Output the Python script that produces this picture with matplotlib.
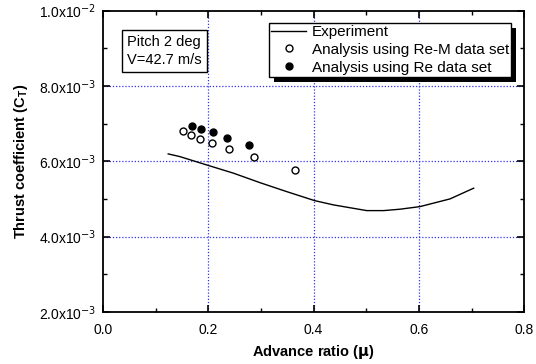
import matplotlib
matplotlib.use("Agg")
import matplotlib.pyplot as plt
from matplotlib.ticker import MultipleLocator, FuncFormatter
from matplotlib.patches import Rectangle

plt.rcParams['font.family'] = ['Liberation Sans', 'DejaVu Sans']

exp_mu = [0.124, 0.146, 0.201, 0.248, 0.298, 0.349, 0.402, 0.438, 0.501, 0.533, 0.564, 0.602, 0.659, 0.704]
exp_ct = [0.006195, 0.006124, 0.005885, 0.005683, 0.005433, 0.005194, 0.004955, 0.004841, 0.00469, 0.00469, 0.004727, 0.004796, 0.005000, 0.005285]

rem_mu = [0.1526, 0.1667, 0.1838, 0.2077, 0.2394, 0.2869, 0.3654]
rem_ct = [0.006806, 0.006708, 0.006602, 0.006487, 0.006328, 0.006116, 0.005763]

re_mu = [0.1697, 0.1862, 0.2085, 0.2362, 0.2780]
re_ct = [0.006939, 0.006859, 0.006771, 0.006628, 0.006434]

fig = plt.figure(figsize=(5.36, 3.64), dpi=100)
ax = fig.add_axes([0.192, 0.143, 0.786, 0.828])

ax.plot(exp_mu, exp_ct, color='black', lw=1.0, label='Experiment')
ax.plot(rem_mu, rem_ct, 'o', mfc='white', mec='black', ms=5, mew=1.0, label='Analysis using Re-M data set')
ax.plot(re_mu, re_ct, 'o', mfc='black', mec='black', ms=5, label='Analysis using Re data set')

ax.set_xlim(0, 0.8)
ax.set_ylim(0.002, 0.010)
ax.xaxis.set_major_locator(MultipleLocator(0.2))
ax.xaxis.set_minor_locator(MultipleLocator(0.1))
ax.yaxis.set_major_locator(MultipleLocator(0.002))
ax.yaxis.set_minor_locator(MultipleLocator(0.001))

def yfmt(v, pos):
    return r'%.1fx10$^{-3}$' % (v * 1000) if abs(v - 0.01) > 1e-9 else r'1.0x10$^{-2}$'
ax.yaxis.set_major_formatter(FuncFormatter(yfmt))
ax.xaxis.set_major_formatter(FuncFormatter(lambda v, p: '%.1f' % v))

ax.tick_params(which='both', direction='in', top=True, right=True, labelsize=10)
ax.tick_params(which='major', length=5, width=1.2)
ax.tick_params(which='minor', length=3, width=1.0)
ax.tick_params(axis='x', pad=8)
ax.tick_params(axis='y', pad=5)
for s in ax.spines.values():
    s.set_linewidth(1.3)

for gx in [0.2, 0.4, 0.6]:
    ax.axvline(gx, color='#3333ee', lw=0.9, ls=(0, (1, 1.5)), zorder=0)
for gy in [0.004, 0.006, 0.008]:
    ax.axhline(gy, color='#3333ee', lw=0.9, ls=(0, (1, 1.5)), zorder=0)

ax.set_xlabel(r'Advance ratio ($\mathbf{\mu}$)', fontsize=10.5, fontweight='bold', labelpad=4)
ax.set_ylabel(r'Thrust coefficient (C$_\mathregular{T}$)', fontsize=10.5, fontweight='bold', labelpad=6)

ax.text(0.058, 0.918, 'Pitch 2 deg\nV=42.7 m/s', transform=ax.transAxes, fontsize=10.5,
        va='top', ha='left', linespacing=1.3,
        bbox=dict(boxstyle='square,pad=0.35', fc='white', ec='black', lw=1.0))

leg = ax.legend(loc='upper right', bbox_to_anchor=(0.969, 0.960), fontsize=11,
                frameon=True, fancybox=False, shadow=False,
                borderpad=0.15, labelspacing=0.25, handlelength=2.3, handletextpad=0.35,
                borderaxespad=0)
leg.get_frame().set_edgecolor('black')
leg.get_frame().set_linewidth(1.0)
leg.get_frame().set_alpha(1)
leg.set_zorder(5)

fig.canvas.draw()
bb = leg.get_window_extent()
W, H = fig.bbox.width, fig.bbox.height
off = 5
shadow = Rectangle(((bb.x0 + off) / W, (bb.y0 - off) / H), bb.width / W, bb.height / H,
                   transform=fig.transFigure, fc='black', ec='none', zorder=4)
ax.add_artist(shadow)
shadow.set_clip_on(False)

fig.savefig('out.png', dpi=100)
